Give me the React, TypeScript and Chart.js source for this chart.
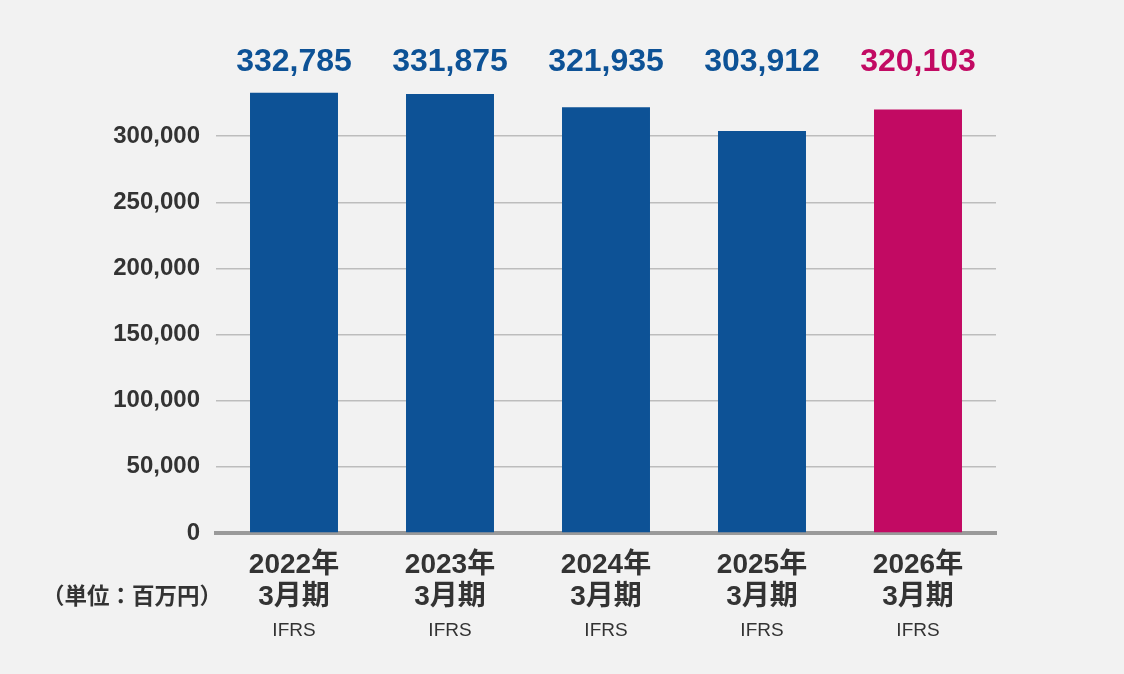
import { useEffect, useRef } from "react";
import { Chart, registerables, type Plugin } from "chart.js";

Chart.register(...registerables);

const years = ["2022年", "2023年", "2024年", "2025年", "2026年"];
const periods = ["3月期", "3月期", "3月期", "3月期", "3月期"];
const standards = ["IFRS", "IFRS", "IFRS", "IFRS", "IFRS"];
const sales = [332785, 331875, 321935, 303912, 320103];
const barColors = ["#0d5296", "#0d5296", "#0d5296", "#0d5296", "#c20a63"];
const yTicks = [0, 50000, 100000, 150000, 200000, 250000, 300000];
const unitLabel = "（単位：百万円）";

const FONT = "'Liberation Sans', Arial, 'Noto Sans CJK JP', sans-serif";

// values above bars, x labels and unit note are drawn by hand
const labelsPlugin: Plugin<"bar"> = {
  id: "customLabels",
  afterDatasetsDraw(chart) {
    const ctx = chart.ctx;
    const meta = chart.getDatasetMeta(0);
    const top = chart.scales.y.getPixelForValue(350000);
    ctx.save();
    ctx.textAlign = "center";
    meta.data.forEach((bar, i) => {
      ctx.fillStyle = barColors[i];
      ctx.font = `bold 32px ${FONT}`;
      ctx.textBaseline = "alphabetic";
      ctx.fillText(sales[i].toLocaleString("en-US"), bar.x, top + 1);

      ctx.fillStyle = "#333";
      ctx.textBaseline = "middle";
      ctx.font = `bold 28px ${FONT}`;
      ctx.fillText(years[i], bar.x, 565);
      ctx.fillText(periods[i], bar.x, 597);
      ctx.font = `19px ${FONT}`;
      ctx.fillText(standards[i], bar.x, 631);
    });
    ctx.font = `bold 22.5px ${FONT}`;
    ctx.fillStyle = "#333";
    ctx.fillText(unitLabel, 132, 598);
    ctx.restore();
  },
};

export default function App() {
  const canvasRef = useRef<HTMLCanvasElement>(null);
  const chartRef = useRef<Chart<"bar"> | null>(null);

  useEffect(() => {
    document.body.style.margin = "0";
    if (!canvasRef.current) return;
    const ctx = canvasRef.current.getContext("2d");
    if (!ctx) return;

    chartRef.current = new Chart(ctx, {
      type: "bar",
      data: {
        labels: years,
        datasets: [
          {
            data: sales,
            backgroundColor: barColors,
            categoryPercentage: 1,
            barPercentage: 0.564,
          },
        ],
      },
      options: {
        responsive: false,
        animation: false,
        layout: { padding: { top: 70, right: 128, left: 0, bottom: 0 } },
        plugins: {
          legend: { display: false },
          tooltip: { enabled: false },
        },
        scales: {
          x: {
            ticks: { display: false },
            grid: { display: false },
            border: { color: "#9a9a9a", width: 4 },
            afterFit: (scale) => {
              scale.height = 141;
            },
          },
          y: {
            min: 0,
            max: 350000,
            afterBuildTicks: (scale) => {
              scale.ticks = [...yTicks, 350000].map((v) => ({ value: v }));
            },
            afterFit: (scale) => {
              scale.width = 216;
            },
            ticks: {
              padding: 16,
              color: "#333",
              font: { family: FONT, size: 24, weight: "bold" },
              callback: (v) =>
                Number(v) > 300000 ? "" : Number(v).toLocaleString("en-US"),
            },
            grid: {
              drawTicks: false,
              lineWidth: 1.5,
              color: (c) =>
                c.tick && (c.tick.value === 0 || c.tick.value > 300000)
                  ? "rgba(0,0,0,0)"
                  : "#bdbdbd",
            },
            border: { display: false },
          },
        },
      },
      plugins: [labelsPlugin],
    });

    return () => {
      chartRef.current?.destroy();
      chartRef.current = null;
    };
  }, []);

  return (
    <div style={{ width: 1124, height: 674, background: "#f2f2f2" }}>
      <canvas ref={canvasRef} width={1124} height={674} />
    </div>
  );
}
